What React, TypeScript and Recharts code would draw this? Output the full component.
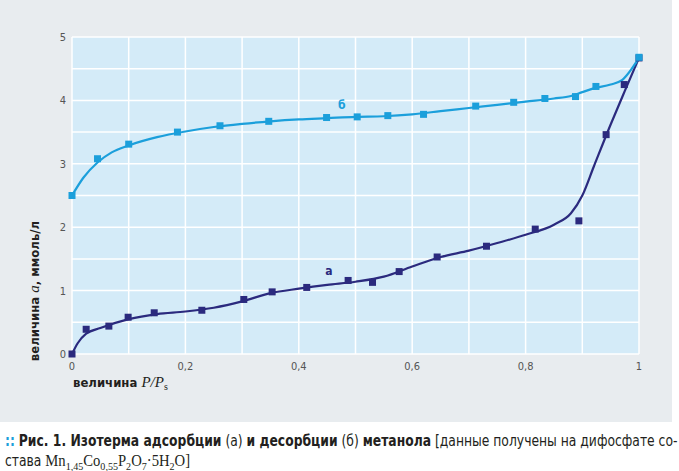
import React from 'react';
import {
  ComposedChart,
  Line,
  Scatter,
  XAxis,
  YAxis,
  CartesianGrid,
  ReferenceDot
} from 'recharts';

// измеренные точки: [P/Ps, a]
const adsorptionPoints = [
  [0, 0], [0.025, 0.39], [0.065, 0.44], [0.099, 0.58], [0.145, 0.65], [0.229, 0.69],
  [0.303, 0.86], [0.353, 0.98], [0.414, 1.05], [0.487, 1.16], [0.53, 1.13], [0.577, 1.3],
  [0.644, 1.53], [0.731, 1.7], [0.817, 1.97], [0.894, 2.1], [0.942, 3.46], [0.974, 4.25], [1, 4.67]
];
const desorptionPoints = [
  [0, 2.5], [0.045, 3.08], [0.1, 3.31], [0.186, 3.5], [0.261, 3.6], [0.347, 3.67], [0.449, 3.73],
  [0.503, 3.74], [0.557, 3.76], [0.62, 3.78], [0.712, 3.91], [0.779, 3.97], [0.834, 4.03],
  [0.888, 4.06], [0.924, 4.22], [1, 4.68]
];

// сглаженные кривые
const adsorptionCurve = [
  [0, 0], [0.01, 0.17], [0.025, 0.32], [0.05, 0.41], [0.1, 0.55], [0.15, 0.63], [0.2, 0.67],
  [0.25, 0.73], [0.3, 0.83], [0.35, 0.96], [0.4, 1.03], [0.45, 1.09], [0.5, 1.14], [0.55, 1.22],
  [0.6, 1.38], [0.65, 1.53], [0.7, 1.63], [0.75, 1.75], [0.8, 1.88], [0.85, 2.04], [0.88, 2.22],
  [0.9, 2.5], [0.92, 2.95], [0.95, 3.62], [0.975, 4.15], [1, 4.67]
];
const desorptionCurve = [
  [0, 2.5], [0.02, 2.78], [0.045, 3.02], [0.07, 3.18], [0.1, 3.29], [0.15, 3.42], [0.2, 3.51],
  [0.25, 3.58], [0.3, 3.63], [0.35, 3.67], [0.4, 3.7], [0.45, 3.72], [0.5, 3.74], [0.55, 3.75],
  [0.6, 3.78], [0.65, 3.83], [0.7, 3.88], [0.75, 3.93], [0.8, 3.98], [0.85, 4.03], [0.88, 4.07],
  [0.9, 4.13], [0.92, 4.19], [0.95, 4.25], [0.97, 4.32], [1, 4.67]
];

const xTicks = [0, 0.2, 0.4, 0.6, 0.8, 1];
const yTicks = [0, 1, 2, 3, 4, 5];
const xGrid = [0, 0.1, 0.2, 0.3, 0.4, 0.5, 0.6, 0.7, 0.8, 0.9, 1];
const yGrid = [0, 0.5, 1, 1.5, 2, 2.5, 3, 3.5, 4, 4.5, 5];

// подписи кривых
const curveLabels = [
  { x: 0.453, y: 1.3, text: 'а', color: '#2b2a7e' },
  { x: 0.476, y: 3.92, text: 'б', color: '#1b9fdb' }
];

const NAVY = '#2b2a7e';
const CYAN = '#1b9fdb';
const NARROW = "'DejaVu Sans Condensed', 'Liberation Sans Narrow', sans-serif";
const SERIF = "'Liberation Serif', 'DejaVu Serif', serif";

const toRows = (arr: number[][]) => arr.map(([x, y]) => ({ x, y }));

const Square = (color: string) => (props: any) => {
  const { cx, cy } = props;
  if (cx == null || cy == null) return null;
  return <rect x={cx - 3.5} y={cy - 3.5} width={7} height={7} fill={color} />;
};

const CurveLabel = (text: string, color: string) => (props: any) => {
  const { cx, cy } = props;
  if (cx == null || cy == null) return null;
  return (
    <text x={cx} y={cy} textAnchor="middle" dominantBaseline="middle" fill={color}
      fontFamily={NARROW} fontWeight="bold" fontSize={12}>
      {text}
    </text>
  );
};

const YLabel = () => (
  <text x={39} y={291} transform="rotate(-90 39 291)" textAnchor="middle"
    fontFamily={NARROW} fontWeight="bold" fontSize={13} fill="#231f20">
    величина <tspan fontFamily={SERIF} fontStyle="italic" fontWeight="normal" fontSize={15}>a</tspan>, ммоль/л
  </text>
);

const XLabel = () => (
  <text x={73} y={387} textAnchor="start" fontFamily={NARROW} fontWeight="bold" fontSize={13} fill="#231f20">
    величина <tspan fontFamily={SERIF} fontStyle="italic" fontWeight="normal" fontSize={15}>P/P</tspan>
    <tspan fontFamily={SERIF} fontWeight="normal" fontSize={10} dy={3}>s</tspan>
  </text>
);

const fmt = (v: number) => String(v).replace('.', ',');

const sub = { fontSize: 11 };

const App: React.FC = () => {
  return (
    <div style={{ position: 'absolute', left: 0, top: 0, width: 679, height: 471, background: '#fff' }}>
      <div style={{ position: 'absolute', left: 0, top: 0, width: 672, height: 422, background: '#e8ecef' }}>
        <ComposedChart width={672} height={422} margin={{ top: 37, right: 33, left: 42, bottom: 38 }}>
          <CartesianGrid fill="#d4ebf8" stroke="#ffffff" strokeWidth={1.5}
            horizontalValues={yGrid} verticalValues={xGrid} />
          <XAxis dataKey="x" type="number" domain={[0, 1]} ticks={xTicks} tickFormatter={fmt}
            axisLine={false} tickLine={false} height={30} allowDuplicatedCategory={false}
            tick={{ fontFamily: NARROW, fontSize: 11, fill: '#555' }} label={<XLabel />} />
          <YAxis type="number" domain={[0, 5]} ticks={yTicks} axisLine={false} tickLine={false}
            width={30} tickMargin={0}
            tick={{ fontFamily: NARROW, fontSize: 11, fill: '#555' }} label={<YLabel />} />
          <Line data={toRows(adsorptionCurve)} dataKey="y" type="monotone" stroke={NAVY}
            strokeWidth={2.2} dot={false} activeDot={false} isAnimationActive={false} />
          <Scatter data={toRows(adsorptionPoints)} dataKey="y" shape={Square(NAVY)} isAnimationActive={false} />
          <Line data={toRows(desorptionCurve)} dataKey="y" type="monotone" stroke={CYAN}
            strokeWidth={2.2} dot={false} activeDot={false} isAnimationActive={false} />
          <Scatter data={toRows(desorptionPoints)} dataKey="y" shape={Square(CYAN)} isAnimationActive={false} />
          {curveLabels.map((l) => (
            <ReferenceDot key={l.text} x={l.x} y={l.y} shape={CurveLabel(l.text, l.color)} />
          ))}
        </ComposedChart>
      </div>
      <div style={{ position: 'absolute', left: 5, top: 431, fontFamily: NARROW, fontSize: 15,
        lineHeight: '20px', color: '#231f20', whiteSpace: 'nowrap',
        transform: 'scaleX(0.915)', transformOrigin: 'left top' }}>
        <div>
          <span style={{ color: CYAN, fontWeight: 'bold' }}>::</span>{' '}
          <b>Рис. 1. Изотерма адсорбции</b> (а) <b>и десорбции</b> (б) <b>метанола</b> [данные получены на дифосфате со-
        </div>
        <div>
          става <span style={{ fontFamily: SERIF, fontSize: 16 }}>Mn<sub style={sub}>1,45</sub>Co<sub style={sub}>0,55</sub>P<sub style={sub}>2</sub>O<sub style={sub}>7</sub>·5H<sub style={sub}>2</sub>O]</span>
        </div>
      </div>
    </div>
  );
};

export default App;
